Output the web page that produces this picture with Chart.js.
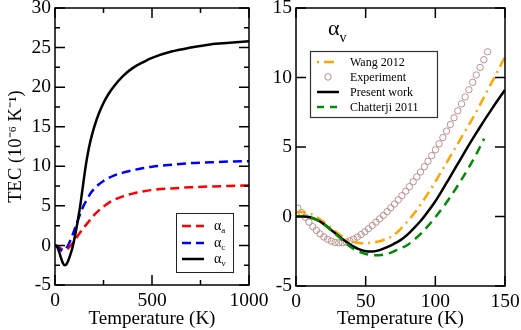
<!DOCTYPE html>
<html><head><meta charset="utf-8">
<script src="https://cdn.jsdelivr.net/npm/chart.js@4.4.1/dist/chart.umd.min.js"></script>
<style>
html,body{margin:0;padding:0;background:#fff;}
#wrap{position:relative;width:521px;height:330px;overflow:hidden;}
canvas{position:absolute;left:0;top:0;}
</style></head><body>
<div id="wrap"><canvas id="c1" width="521" height="330"></canvas><canvas id="c2" width="521" height="330"></canvas></div>
<script>
// ---------- Left panel data (T in K, TEC in 1e-6 K^-1) ----------
const tempL  = [0,10,20,30,40,50,60,70,80,90,100,110,120,130,140,150,160,170,180,190,200,225,250,275,300,350,400,450,500,600,700,800,900,1000];
const alphaA = [0,-0.05,-0.2,-0.4,-0.55,-0.6,-0.5,-0.3,-0.05,0.25,0.6,0.95,1.3,1.65,1.95,2.3,2.6,2.9,3.2,3.5,3.8,4.4,4.9,5.35,5.7,6.2,6.55,6.8,7.0,7.2,7.35,7.45,7.52,7.58];
const alphaC = [0,-0.1,-0.35,-0.6,-0.65,-0.5,-0.25,0.15,0.7,1.3,1.95,2.6,3.3,4.0,4.6,5.15,5.6,6.05,6.45,6.8,7.1,7.7,8.15,8.5,8.8,9.2,9.5,9.75,9.95,10.2,10.4,10.5,10.6,10.65];
const alphaV = [0,-0.15,-0.7,-1.5,-2.2,-2.5,-2.35,-1.8,-1.1,-0.3,0.8,2.1,3.5,5.0,6.8,8.6,10.3,11.7,12.9,13.9,14.8,16.6,18.0,19.1,20.0,21.4,22.4,23.1,23.7,24.5,25.0,25.4,25.6,25.8];
const ticksL_x = [0,500,1000];
const ticksL_y = [-5,0,5,10,15,20,25,30];

// ---------- Right panel data ----------
const tempR     = [0,5,10,15,20,25,30,35,40,45,50,55,60,65,70,75,80,85,90,95,100,105,110,115,120,125,130,135,140,145,150];
const present   = [0,0,-0.05,-0.25,-0.55,-0.95,-1.35,-1.75,-2.1,-2.35,-2.5,-2.52,-2.42,-2.22,-1.98,-1.7,-1.3,-0.8,-0.25,0.4,1.1,1.9,2.75,3.6,4.45,5.3,6.1,6.9,7.65,8.4,9.1];
const wang      = [0.3,0.3,0.2,-0.05,-0.4,-0.8,-1.2,-1.55,-1.78,-1.9,-1.92,-1.88,-1.78,-1.6,-1.35,-0.9,-0.35,0.25,0.95,1.7,2.5,3.35,4.2,5.05,5.9,6.75,7.65,8.6,9.55,10.5,11.5];
const chatterji = [0,0,-0.05,-0.25,-0.55,-0.95,-1.4,-1.85,-2.25,-2.52,-2.7,-2.78,-2.78,-2.7,-2.52,-2.3,-2.05,-1.65,-1.2,-0.65,-0.05,0.6,1.3,2.05,2.85,3.7,4.6,5.6,null,null,null];
const expT = [1.3,4.0,6.6,9.3,12.0,14.6,17.3,20.0,22.7,25.3,28.0,30.7,33.3,36.0,38.7,41.3,44.0,46.7,49.4,52.0,54.7,57.4,60.0,62.7,65.4,68.0,70.7,73.4,76.0,78.7,81.4,84.1,86.7,89.4,92.1,94.7,97.4,100.1,102.7,105.4,108.1,110.8,113.4,116.1,118.8,121.4,124.1,126.8,129.4,132.1,134.8,137.5];
const expV = [0.6,0.28,-0.05,-0.4,-0.73,-1.0,-1.25,-1.47,-1.64,-1.77,-1.86,-1.9,-1.89,-1.84,-1.75,-1.63,-1.48,-1.3,-1.1,-0.88,-0.65,-0.41,-0.17,0.08,0.35,0.62,0.9,1.2,1.5,1.82,2.15,2.5,2.85,3.2,3.58,3.97,4.38,4.8,5.23,5.68,6.15,6.62,7.1,7.6,8.1,8.6,9.12,9.65,10.18,10.72,11.28,11.85];
const ticksR_x = [0,50,100,150];
const ticksR_y = [-5,0,5,10,15];

const legendL = ['a','c','v'];
const legendR = ['Wang 2012','Experiment','Present work','Chatterji 2011'];

const FONT = "'Liberation Serif','Times New Roman',serif";
const pts = (xs, ys) => xs.map((x,i)=>({x:x, y:ys[i]})).filter(p=>p.y!==null);

function frameTicks(isMajorX, isMajorY){
  return {
    id:'frameTicks',
    afterDatasetsDraw(chart){
      const {ctx, chartArea:a, scales} = chart;
      ctx.save();
      ctx.strokeStyle = '#000';
      ctx.lineWidth = 1.5;
      ctx.setLineDash([]);
      ctx.strokeRect(a.left, a.top, a.right-a.left, a.bottom-a.top);
      ctx.beginPath();
      scales.x.ticks.forEach(t=>{
        const x = scales.x.getPixelForValue(t.value);
        const len = isMajorX(t.value) ? 10 : 5;
        ctx.moveTo(x, a.bottom); ctx.lineTo(x, a.bottom-len);
        ctx.moveTo(x, a.top); ctx.lineTo(x, a.top+len);
      });
      scales.y.ticks.forEach(t=>{
        const y = scales.y.getPixelForValue(t.value);
        const len = isMajorY(t.value) ? 10 : 5;
        ctx.moveTo(a.left, y); ctx.lineTo(a.left+len, y);
        ctx.moveTo(a.right, y); ctx.lineTo(a.right-len, y);
      });
      ctx.stroke();
      ctx.restore();
    }
  };
}

// ---------- Left chart ----------
const legendPluginL = {
  id:'legendL',
  afterDraw(chart){
    const ctx = chart.ctx;
    ctx.save();
    const bx=176, by=213, bw=57, bh=59;
    ctx.fillStyle='#fff'; ctx.fillRect(bx,by,bw,bh);
    ctx.strokeStyle='#222'; ctx.lineWidth=1; ctx.strokeRect(bx+0.5,by+0.5,bw,bh);
    const cols=['#ff0000','#0000ff','#000000'];
    const dashes=[[9,5],[9,5],[]];
    const rows=[226,243,259];
    legendL.forEach((s,i)=>{
      ctx.strokeStyle=cols[i]; ctx.lineWidth=2.5; ctx.setLineDash(dashes[i]);
      ctx.beginPath(); ctx.moveTo(182,rows[i]); ctx.lineTo(204,rows[i]); ctx.stroke();
      ctx.setLineDash([]);
      ctx.fillStyle='#000'; ctx.textBaseline='alphabetic'; ctx.textAlign='left';
      ctx.font='14px '+FONT;
      ctx.fillText('\u03B1',214,rows[i]+4);
      const w=ctx.measureText('\u03B1').width;
      ctx.font='9px '+FONT;
      ctx.fillText(s,214+w,rows[i]+7);
    });
    ctx.restore();
  }
};

new Chart(document.getElementById('c1'), {
  type:'line',
  data:{datasets:[
    {label:'\u03B1v', data:pts(tempL,alphaV), borderColor:'#000', borderWidth:2.5},
    {label:'\u03B1c', data:pts(tempL,alphaC), borderColor:'#0000ff', borderWidth:2.5, borderDash:[9,5]},
    {label:'\u03B1a', data:pts(tempL,alphaA), borderColor:'#ff0000', borderWidth:2.5, borderDash:[9,5]}
  ]},
  options:{
    responsive:false, animation:false, devicePixelRatio:1,
    layout:{padding:{left:0,right:272,top:8,bottom:0}},
    elements:{point:{radius:0}, line:{cubicInterpolationMode:'monotone', fill:false}},
    plugins:{legend:{display:false}, tooltip:{enabled:false}},
    scales:{
      x:{type:'linear', min:0, max:1000,
         grid:{display:false, drawTicks:false}, border:{display:false},
         ticks:{stepSize:250, autoSkip:false, maxRotation:0, padding:4, color:'#000', font:{family:FONT,size:19.5},
                callback:(v)=> ticksL_x.includes(v) ? String(v) : ''},
         title:{display:true, text:'Temperature (K)', color:'#000', font:{family:FONT,size:19}, padding:{top:0,bottom:0}},
         afterFit(s){ s.height=45; s.paddingLeft=0; s.paddingRight=0; }
      },
      y:{min:-5, max:30,
         grid:{display:false, drawTicks:false}, border:{display:false},
         ticks:{stepSize:2.5, autoSkip:false, padding:4, color:'#000', font:{family:FONT,size:19.5},
                callback:(v)=> ticksL_y.includes(v) ? String(v) : ''},
         title:{display:true, text:'TEC (10\u207B\u2076 K\u207B\u00B9)', color:'#000', font:{family:FONT,size:18.5}, padding:{top:5.5,bottom:0}},
         afterFit(s){ s.width=55; s.paddingTop=0; s.paddingBottom=0; }
      }
    }
  },
  plugins:[frameTicks(v=>v%500===0, v=>v%5===0), legendPluginL]
});

// ---------- Right chart ----------
const legendPluginR = {
  id:'legendR',
  afterDraw(chart){
    const ctx = chart.ctx;
    ctx.save();
    ctx.fillStyle='#000'; ctx.textAlign='left'; ctx.textBaseline='alphabetic';
    ctx.font='22px '+FONT; ctx.fillText('\u03B1',328,35);
    const wa=ctx.measureText('\u03B1').width;
    ctx.font='14px '+FONT; ctx.fillText('v',328+wa,42);
    const bx=310, by=51, bw=127, bh=66;
    ctx.fillStyle='#fff'; ctx.fillRect(bx,by,bw,bh);
    ctx.strokeStyle='#333'; ctx.lineWidth=1.2; ctx.strokeRect(bx+0.5,by+0.5,bw,bh);
    const rows=[62,77,92,107];
    ctx.strokeStyle='#ffa500'; ctx.lineWidth=2.5; ctx.setLineDash([2,5,10,5]);
    ctx.beginPath(); ctx.moveTo(317,rows[0]); ctx.lineTo(339,rows[0]); ctx.stroke();
    ctx.setLineDash([]); ctx.strokeStyle='#bc8f8f'; ctx.lineWidth=1;
    ctx.beginPath(); ctx.arc(328,rows[1],3.2,0,Math.PI*2); ctx.stroke();
    ctx.strokeStyle='#000'; ctx.lineWidth=2.5;
    ctx.beginPath(); ctx.moveTo(317,rows[2]); ctx.lineTo(339,rows[2]); ctx.stroke();
    ctx.strokeStyle='#008c00'; ctx.setLineDash([7,6]);
    ctx.beginPath(); ctx.moveTo(317,rows[3]); ctx.lineTo(339,rows[3]); ctx.stroke();
    ctx.setLineDash([]);
    ctx.fillStyle='#000'; ctx.font='12px '+FONT;
    legendR.forEach((s,i)=>ctx.fillText(s,350,rows[i]+4));
    ctx.restore();
  }
};

new Chart(document.getElementById('c2'), {
  type:'line',
  data:{datasets:[
    {label:legendR[3], data:pts(tempR,chatterji), borderColor:'#008c00', borderWidth:2.5, borderDash:[9,6]},
    {label:legendR[2], data:pts(tempR,present), borderColor:'#000', borderWidth:2.5},
    {label:legendR[0], data:pts(tempR,wang), borderColor:'#ffa500', borderWidth:2.5, borderDash:[10,5,2,5]},
    {label:legendR[1], data:pts(expT,expV), showLine:false, pointRadius:3.2, pointStyle:'circle',
     pointBorderColor:'#bc8f8f', pointBackgroundColor:'rgba(0,0,0,0)', pointBorderWidth:1, borderColor:'#bc8f8f'}
  ]},
  options:{
    responsive:false, animation:false, devicePixelRatio:1,
    layout:{padding:{left:260,right:16,top:8,bottom:0}},
    elements:{point:{radius:0}, line:{cubicInterpolationMode:'monotone', fill:false}},
    plugins:{legend:{display:false}, tooltip:{enabled:false}},
    scales:{
      x:{type:'linear', min:0, max:150,
         grid:{display:false, drawTicks:false}, border:{display:false},
         ticks:{stepSize:50, autoSkip:false, maxRotation:0, padding:4, color:'#000', font:{family:FONT,size:19.5},
                callback:(v)=> ticksR_x.includes(v) ? String(v) : ''},
         title:{display:true, text:'Temperature (K)', color:'#000', font:{family:FONT,size:19}, padding:{top:0,bottom:0}},
         afterFit(s){ s.height=44; s.paddingLeft=0; s.paddingRight=0; }
      },
      y:{min:-5, max:15,
         grid:{display:false, drawTicks:false}, border:{display:false},
         ticks:{stepSize:5, autoSkip:false, padding:4, color:'#000', font:{family:FONT,size:19.5},
                callback:(v)=> ticksR_y.includes(v) ? String(v) : ''},
         afterFit(s){ s.width=36; s.paddingTop=0; s.paddingBottom=0; }
      }
    }
  },
  plugins:[frameTicks(()=>true, ()=>true), legendPluginR]
});
</script>
</body></html>
